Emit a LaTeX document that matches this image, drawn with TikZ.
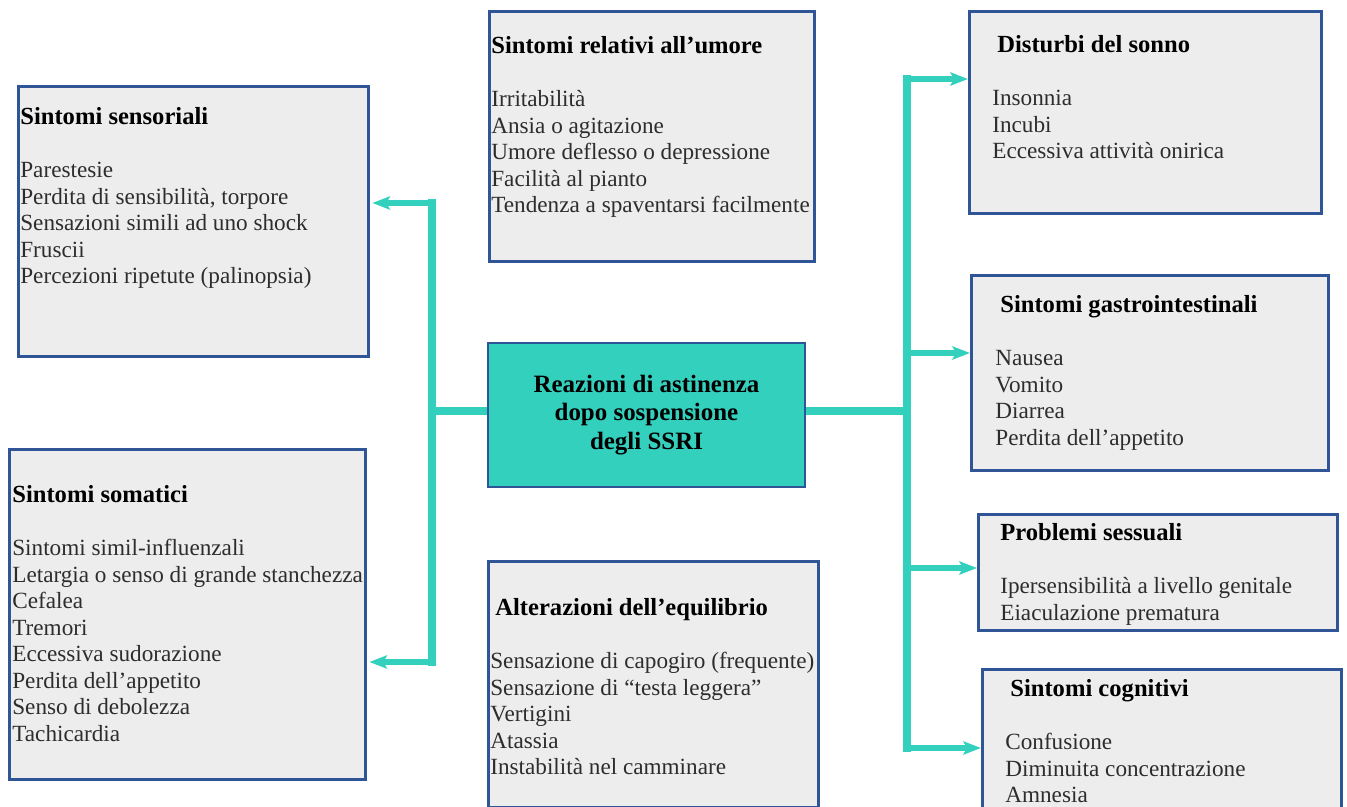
\documentclass[tikz,border=0pt]{standalone}
\usepackage{fontspec}
\setmainfont{Liberation Serif}
\usetikzlibrary{arrows.meta,positioning}
\definecolor{turchese}{RGB}{52,208,190}
\definecolor{bordoblu}{RGB}{47,85,151}
\definecolor{grigiobox}{RGB}{237,237,237}
\definecolor{testogrigio}{RGB}{45,45,45}
\newcommand{\titolo}[1]{{\fontsize{14}{15.1}\selectfont\bfseries\color{black}#1}}

\begin{document}
\begin{tikzpicture}[x=0.02cm, y=-0.02cm,
    riquadro/.style={draw=bordoblu, line width=1.6pt, fill=grigiobox, anchor=north west, inner sep=0pt},
    elenco/.style={anchor=north west, inner sep=0pt, align=left, text=testogrigio, font=\fontsize{13.2}{15.1}\selectfont},
    tronco/.style={turchese, line width=4.5pt},
    ramo/.style={turchese, line width=3.4pt, -{Stealth[length=10pt, width=7.5pt, inset=2pt]}}]
    % Dimensione dell'immagine
        \useasboundingbox (0, 0) rectangle (1347, 807);

    % Nodo centrale
        \node[draw=bordoblu, line width=1.6pt, fill=turchese, minimum width=6.34cm, minimum height=2.88cm, align=center, font=\fontsize{14.2}{16.4}\selectfont\bfseries] (ssri) at (646.5, 415) {Reazioni di astinenza\\dopo sospensione\\degli SSRI};

    % Colonna sinistra
        \node[riquadro, minimum width=7cm, minimum height=5.4cm] (sensoriali) at (17, 85) {};
        \node[elenco] (sensoriali-testo) at (20, 107) {\titolo{Sintomi sensoriali}\\[15.1pt]
            Parestesie\\Perdita di sensibilità, torpore\\Sensazioni simili ad uno shock\\Fruscii\\Percezioni ripetute (palinopsia)};
        \node[riquadro, minimum width=7.12cm, minimum height=6.6cm] (somatici) at (8, 448) {};
        \node[elenco] (somatici-testo) at (12, 485) {\titolo{Sintomi somatici}\\[15.1pt]
            Sintomi simil-influenzali\\Letargia o senso di grande stanchezza\\Cefalea\\Tremori\\Eccessiva sudorazione\\Perdita dell'appetito\\Senso di debolezza\\Tachicardia};

    % Colonna centrale
        \node[riquadro, minimum width=6.5cm, minimum height=5cm] (umore) at (488, 10) {};
        \node[elenco] (umore-testo) at (491, 36) {\titolo{Sintomi relativi all’umore}\\[15.1pt]
            Irritabilità\\Ansia o agitazione\\Umore deflesso o depressione\\Facilità al pianto\\Tendenza a spaventarsi facilmente};
        \node[riquadro, minimum width=6.6cm, minimum height=4.92cm] (equilibrio) at (487, 560) {};
        \node[elenco] (equilibrio-testo) at (490, 598) {\hspace*{0.1cm}\titolo{Alterazioni dell’equilibrio}\\[15.1pt]
            Sensazione di capogiro (frequente)\\Sensazione di “testa leggera”\\Vertigini\\Atassia\\Instabilità nel camminare};

    % Colonna destra
        \node[riquadro, minimum width=7.04cm, minimum height=4.04cm] (sonno) at (968, 10) {};
        \node[elenco] (sonno-testo) at (992, 35) {\hspace*{0.1cm}\titolo{Disturbi del sonno}\\[15.1pt]
            Insonnia\\Incubi\\Eccessiva attività onirica};
        \node[riquadro, minimum width=7.14cm, minimum height=3.9cm] (gastro) at (970, 274) {};
        \node[elenco] (gastro-testo) at (995, 295) {\hspace*{0.1cm}\titolo{Sintomi gastrointestinali}\\[15.1pt]
            Nausea\\Vomito\\Diarrea\\Perdita dell’appetito};
        \node[riquadro, minimum width=7.18cm, minimum height=2.32cm] (sessuali) at (977, 513) {};
        \node[elenco] (sessuali-testo) at (1000, 523) {\titolo{Problemi sessuali}\\[15.1pt]
            Ipersensibilità a livello genitale\\Eiaculazione prematura};
        \node[riquadro, minimum width=7.18cm, minimum height=2.9cm] (cognitivi) at (981, 668) {};
        \node[elenco] (cognitivi-testo) at (1005, 679) {\hspace*{0.1cm}\titolo{Sintomi cognitivi}\\[15.1pt]
            Confusione\\Diminuita concentrazione\\Amnesia};

    % Collegamenti a sinistra
        \coordinate (sx-nodo) at (432, 411);
        \coordinate (sx-alto) at (432, 203);
        \coordinate (sx-basso) at (432, 662);
        \draw[tronco] (ssri.west |- sx-nodo) -- (sx-nodo);
        \draw[tronco, line cap=rect] (sx-alto) -- (sx-basso);
        \draw[ramo, shorten >=1.5pt] (sx-alto) -- (sx-alto -| sensoriali.east);
        \draw[ramo, shorten >=1.5pt] (sx-basso) -- (sx-basso -| somatici.east);

    % Collegamenti a destra
        \coordinate (dx-nodo) at (907, 411);
        \coordinate (dx-1) at (907, 79);
        \coordinate (dx-2) at (907, 353);
        \coordinate (dx-3) at (907, 568);
        \coordinate (dx-4) at (907, 748);
        \draw[tronco] (ssri.east |- dx-nodo) -- (dx-nodo);
        \draw[tronco, line cap=rect] (dx-1) -- (dx-4);
        \draw[ramo] (dx-1) -- (dx-1 -| sonno.west);
        \draw[ramo] (dx-2) -- (dx-2 -| gastro.west);
        \draw[ramo] (dx-3) -- (dx-3 -| sessuali.west);
        \draw[ramo] (dx-4) -- (dx-4 -| cognitivi.west);
\end{tikzpicture}
\end{document}
